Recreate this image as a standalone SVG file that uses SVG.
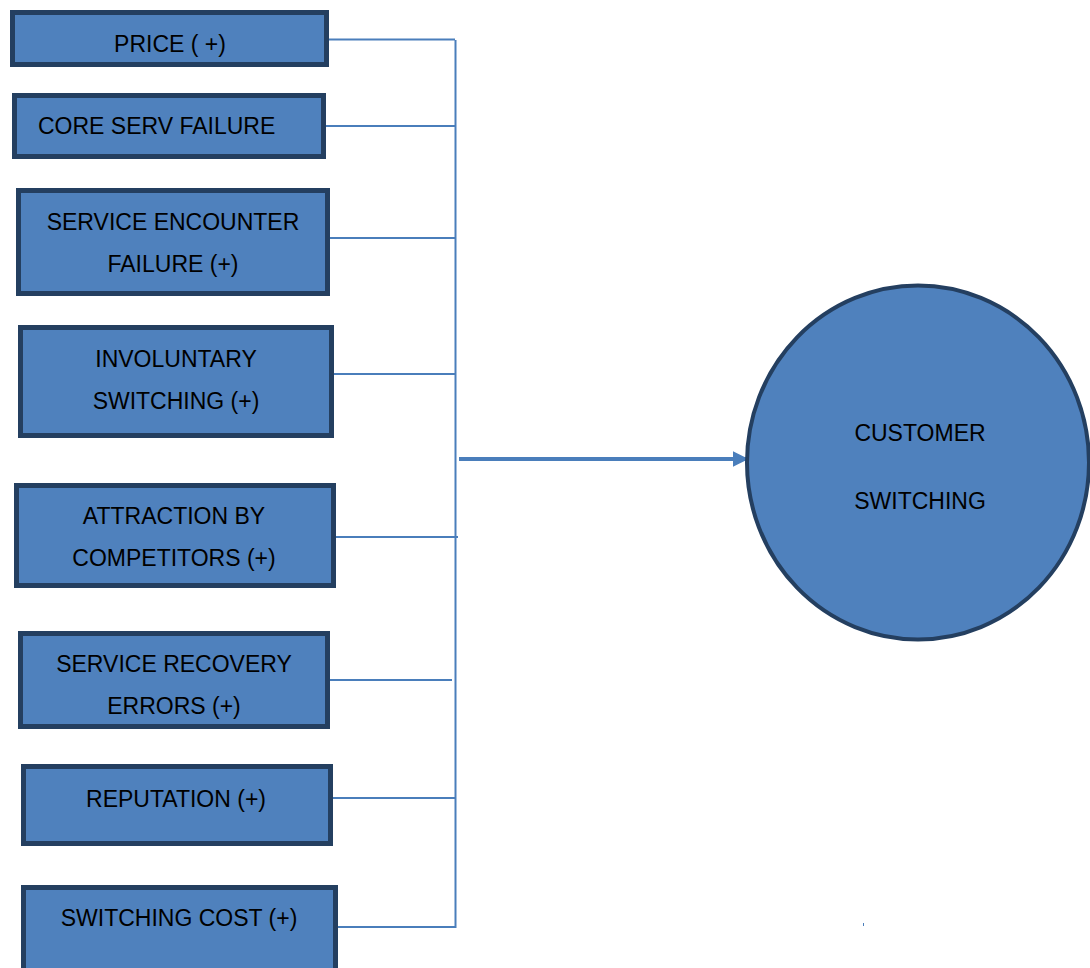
<svg xmlns="http://www.w3.org/2000/svg" width="1090" height="968" viewBox="0 0 1090 968">
<style>
.box{fill:#4F81BD;stroke:#243F60;stroke-width:5}
.lbl{font-family:"Liberation Sans",Arial,sans-serif;font-size:23px;fill:#000;text-anchor:middle}
.ln{stroke:#4A7EBB;stroke-width:2;fill:none}
</style>
<defs>
<marker id="ah" markerWidth="4" markerHeight="4" refX="3.6" refY="2" orient="auto" markerUnits="strokeWidth">
<path d="M0,0 L4,2 L0,4 Z" fill="#4A7EBB"/>
</marker>
</defs>
<rect width="1090" height="968" fill="#fff"/>
<g id="connectors">
<path class="ln" d="M329,39.5 H455 M326,126 H455 M330,238 H455 M334,374 H455 M336,537 H458 M330,680 H452 M333,798 H455 M338,927 H455"/>
<path class="ln" d="M455.5,40 V928"/>
<line x1="459" y1="459" x2="747" y2="459" stroke="#4A7EBB" stroke-width="4" marker-end="url(#ah)"/>
</g>
<g id="n-price"><rect class="box" x="12.5" y="12.5" width="314" height="52"/><text class="lbl" x="170" y="52">PRICE ( +)</text></g>
<g id="n-core"><rect class="box" x="14.5" y="95.5" width="309" height="61"/><text class="lbl" x="38" y="134" style="text-anchor:start">CORE SERV FAILURE</text></g>
<g id="n-encounter"><rect class="box" x="18.5" y="190.5" width="309" height="103"/><text class="lbl" x="173" y="230">SERVICE ENCOUNTER</text><text class="lbl" x="173" y="272">FAILURE (+)</text></g>
<g id="n-involuntary"><rect class="box" x="20.5" y="327.5" width="311" height="108"/><text class="lbl" x="176" y="367">INVOLUNTARY</text><text class="lbl" x="176" y="409">SWITCHING (+)</text></g>
<g id="n-attraction"><rect class="box" x="16.5" y="485.5" width="317" height="100"/><text class="lbl" x="174" y="524">ATTRACTION BY</text><text class="lbl" x="174" y="566">COMPETITORS (+)</text></g>
<g id="n-recovery"><rect class="box" x="20.5" y="633.5" width="307" height="93"/><text class="lbl" x="174" y="672">SERVICE RECOVERY</text><text class="lbl" x="174" y="714">ERRORS (+)</text></g>
<g id="n-reputation"><rect class="box" x="23.5" y="766.5" width="307" height="77"/><text class="lbl" x="176" y="807">REPUTATION (+)</text></g>
<g id="n-cost"><rect class="box" x="23.5" y="887.5" width="312" height="92"/><text class="lbl" x="179" y="926">SWITCHING COST (+)</text></g>
<g id="n-customer"><ellipse class="box" cx="918" cy="462.5" rx="171" ry="177" style="stroke-width:4"/><text class="lbl" x="920" y="441">CUSTOMER</text><text class="lbl" x="920" y="509">SWITCHING</text></g>
<rect x="863" y="923" width="1" height="3" fill="#4A7EBB"/>
</svg>
